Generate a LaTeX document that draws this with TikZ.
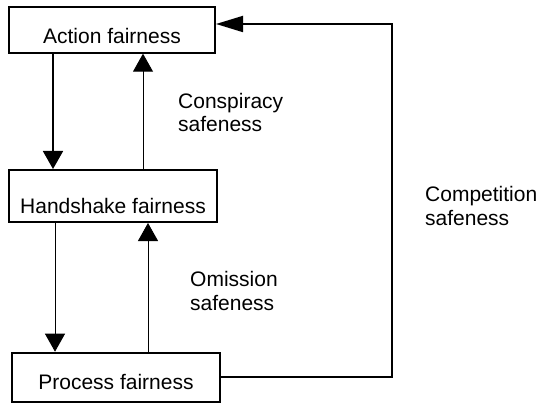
\documentclass[tikz,border=0pt]{standalone}
\usepackage{fontspec}
\setmainfont{Liberation Sans}
\usetikzlibrary{arrows.meta}
\begin{document}
\begin{tikzpicture}[x=1pt,y=-1pt,
  every node/.style={font=\fontsize{21}{23.5}\selectfont},
  fbox/.style={draw,line width=2pt,rectangle,inner sep=0pt},
  lbl/.style={align=left,anchor=base west,inner sep=0pt},
  tip/.style={-{Triangle[length=18pt,width=20pt]}},
  thick line/.style={line width=1.8pt},
  thin line/.style={line width=0.9pt}]
\useasboundingbox (0,0) rectangle (540,406);
% the three fairness levels (text height/depth set the text's place in each box)
\node[fbox,minimum width=206pt,minimum height=46pt,text height=30pt,text depth=3pt] (act) at (112,29.7) {Action fairness};
\node[fbox,minimum width=208pt,minimum height=52pt,text height=35pt,text depth=0.4pt] (hs) at (113,196) {Handshake fairness};
\node[fbox,minimum width=208pt,minimum height=49pt,text height=25pt,text depth=1pt] (proc) at (116,377.2) {Process fairness};
% x positions of the vertical arrows
\coordinate (d1) at (53,0);
\coordinate (u1) at (143,0);
\coordinate (d2) at (55,0);
\coordinate (u2) at (148,0);
\coordinate (rc) at (392,24);
% arrows between action and handshake fairness
\draw[tip,thick line] (act.south -| d1) -- (hs.north -| d1);
\draw[tip,thin line] (hs.north -| u1) -- (act.south -| u1);
% arrows between handshake and process fairness
\draw[tip,thin line] (hs.south -| d2) -- (proc.north -| d2);
\draw[tip,thin line] (proc.north -| u2) -- (hs.south -| u2);
% competition loop on the right
\draw[-{Triangle[length=27pt,width=16pt]},thick line] (proc.east) -| (rc) -- (act.east |- rc);
% labels (anchored at the baseline of their last line)
\node[lbl] (consp) at (178,132) {Conspiracy\\safeness};
\node[lbl] (omis) at (190,310) {Omission\\safeness};
\node[lbl] (comp) at (425,225) {Competition\\safeness};
\end{tikzpicture}
\end{document}
